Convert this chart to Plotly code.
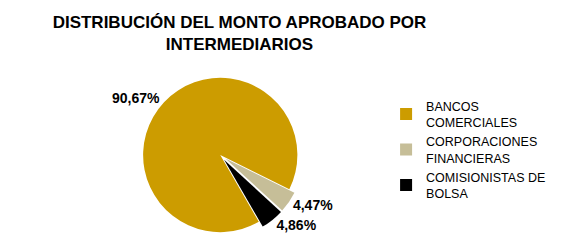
import plotly.graph_objects as go

categories = ["BANCOS<br>COMERCIALES", "CORPORACIONES<br>FINANCIERAS", "COMISIONISTAS DE<br>BOLSA"]
values = [90.67, 4.47, 4.86]
colors = ["#CC9C00", "#C6BE98", "#000000"]

text_labels = [f"{v:.2f}".replace(".", ",") + "%" for v in values]

fig = go.Figure(go.Pie(
    labels=categories,
    values=values,
    text=text_labels,
    textinfo="text",
    textposition="outside",
    textfont=dict(family="Liberation Sans, Arial", size=14, color="#000000", weight="bold"),
    marker=dict(colors=colors, line=dict(color="#FFFFFF", width=0)),
    sort=False,
    direction="clockwise",
    rotation=150,
    pull=[0, 0.08, 0.08],
    domain=dict(x=[0.2, 0.55], y=[0.06, 0.74]),
    showlegend=True,
))

fig.update_layout(
    width=566, height=245,
    margin=dict(l=0, r=0, t=0, b=0),
    paper_bgcolor="white",
    plot_bgcolor="white",
    title=dict(
        text="<b>DISTRIBUCIÓN DEL MONTO APROBADO POR<br>INTERMEDIARIOS</b>",
        x=0.409, xanchor="center", y=0.92, yanchor="top",
        font=dict(family="Liberation Sans, Arial", size=17, color="#000000"),
    ),
    legend=dict(
        x=0.668, y=0.66, xanchor="left", yanchor="top",
        font=dict(family="Liberation Sans, Arial", size=12.5, color="#000000"),
        itemsizing="constant",
        itemwidth=30,
    ),
)

fig.write_html("out.html")
